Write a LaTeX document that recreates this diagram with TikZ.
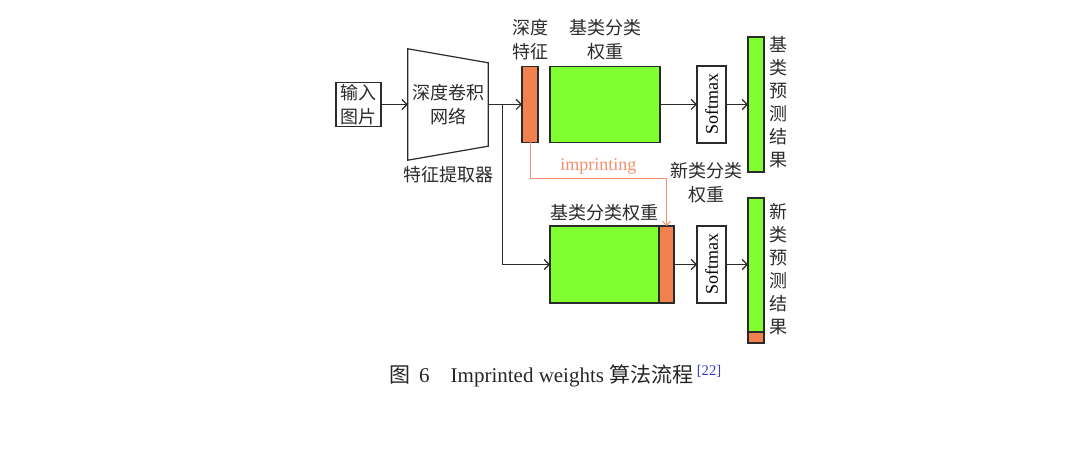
\documentclass[tikz,border=0pt]{standalone}
\usepackage{fontspec}
\usepackage{graphicx}
\usepackage{xcolor}
\usetikzlibrary{positioning, arrows.meta}
\setmainfont{Liberation Serif}
\newfontfamily\cjk{Noto Sans CJK SC}
\definecolor{wgreen}{HTML}{80FF30}
\definecolor{worange}{HTML}{F28150}
\definecolor{edgegray}{HTML}{2B2B2B}
\definecolor{imprintred}{HTML}{F4906C}
\definecolor{refblue}{HTML}{3340CC}

\tikzset{
  box/.style={draw=edgegray, line width=1.3pt, inner sep=0pt, outer sep=0pt},
  greenbox/.style={box, fill=wgreen},
  orangebox/.style={box, fill=worange},
  lbl/.style={font=\cjk\fontsize{18}{24}\selectfont, text=edgegray, align=center, inner sep=0pt},
  vlbl/.style={lbl, font=\cjk\fontsize{18}{23}\selectfont},
  flow/.style={-{Straight Barb[length=5pt,width=10pt]}, line width=1.2pt, draw=edgegray},
}

\begin{document}
\begin{tikzpicture}[x=1pt, y=1pt]
  \useasboundingbox[fill=white] (0,0) rectangle (1074,457);
  \node[box, lbl, minimum width=45pt, minimum height=44pt] (input) at (358.5,352.5) {输入\\图片};
  \node[lbl, minimum width=80pt, minimum height=111pt] (cnn) at (448,352.5) {深度卷积\\网络};
  \draw[edgegray, line width=1.2pt] (cnn.north west) -- ([yshift=-14pt]cnn.north east)
    -- ([yshift=14pt]cnn.south east) -- (cnn.south west) -- cycle;
  \node[lbl, below=6pt of cnn] (cnnlbl) {特征提取器};

  \node[orangebox, minimum width=16pt, minimum height=76pt] (feat) at (530,352.5) {};
  \node[lbl, above=6pt of feat] (featlbl) {深度\\特征};
  \node[greenbox, minimum width=110pt, minimum height=76pt] (basew) at (605,352.5) {};
  \node[lbl, above=6pt of basew] (basewlbl) {基类分类\\权重};
  \node[box, minimum width=29pt, minimum height=77pt, font=\fontsize{18}{22}\selectfont] (soft1)
    at (711.5,352.5) {\rotatebox{90}{Softmax}};
  \node[greenbox, minimum width=16pt, minimum height=135pt] (res1) at (756,352.5) {};
  \node[vlbl, right=5pt of res1, yshift=2pt] (res1lbl) {基\\类\\预\\测\\结\\果};

  \node[greenbox, minimum width=109pt, minimum height=77pt] (basew2) at (604.5,192.5) {};
  \node[orangebox, minimum width=15pt, minimum height=77pt, right=0pt of basew2] (neww) {};
  \node[lbl, above=5pt of basew2] (basew2lbl) {基类分类权重};
  \node[lbl] (newwlbl) at (706,274) {新类分类\\权重};
  \node[box, minimum width=29pt, minimum height=77pt, font=\fontsize{18}{22}\selectfont] (soft2)
    at (711.5,192.5) {\rotatebox{90}{Softmax}};
  \node[greenbox, minimum width=16pt, minimum height=134pt] (res2) at (756,192) {};
  \node[orangebox, minimum width=16pt, minimum height=11pt, below=0pt of res2] (newres) {};
  \node[vlbl, right=5pt of res2, yshift=-4pt] (res2lbl) {新\\类\\预\\测\\结\\果};

  \coordinate (split) at (502.7,352.5);
  \draw[flow] (input.east) -- (cnn.west);
  \draw[flow] (cnn.east) -- (feat.west);
  \draw[flow] (split) |- (basew2.west);
  \draw[flow] (basew.east) -- (soft1.west);
  \draw[flow] (soft1.east) -- (res1.west);
  \draw[flow] (neww.east) -- (soft2.west);
  \draw[flow] (soft2.east) -- (soft2.east -| res2.west);
  \draw[-{Straight Barb[length=4pt,width=8pt]}, imprintred, line width=1pt] (feat.south) -- ++(0,-36)
    -| node[pos=0.25, above=4pt, inner sep=0pt, font=\fontsize{18}{22}\selectfont] (implbl) {imprinting} (neww.north);

  \node[anchor=west, inner sep=0pt, text=black!85, font=\fontsize{21}{25}\selectfont] (caption) at (389,81)
    {{\cjk 图}\hspace{9pt}6\hspace{21pt}Imprinted weights {\cjk 算法流程}\,\textsuperscript{\color{refblue}[22]}};
\end{tikzpicture}
\end{document}
